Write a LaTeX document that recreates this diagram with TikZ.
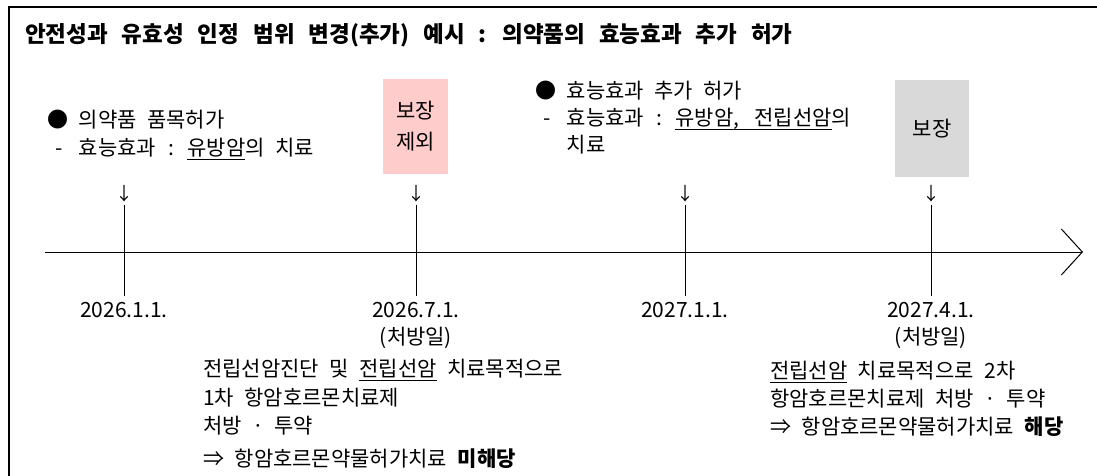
\documentclass[tikz,border=0pt]{standalone}
\usepackage{fontspec}
\setmainfont{Noto Sans CJK KR}
\newcommand\undl[1]{\setbox0\hbox{#1}\rlap{\rule[-4.5pt]{\wd0}{0.9pt}}\box0\relax}
\newcommand\setbody[2]{\fontsize{#1}{#2}\selectfont\spaceskip=.5em\relax}
\newcommand\hw[2][c]{\makebox[.5em][#1]{#2}}
\newcommand\dashpre{\hspace*{.3em}\hw{-}\hspace*{.2em}\ }
\newcommand\blankpre{\hspace*{1em}\ }
\usetikzlibrary{arrows.meta}
\definecolor{exclpink}{HTML}{FFCCCC}
\definecolor{covgray}{HTML}{D9D9D9}

\begin{document}
\begin{tikzpicture}[x=1pt,y=-1pt,
  body/.style={anchor=base west,inner sep=0pt,align=left,font=\setbody{21}{28}},
  datelbl/.style={anchor=north,inner sep=0pt,align=center,font=\setbody{21}{27}},
  downarr/.style={inner sep=0pt,font=\fontsize{18}{20}\selectfont},
  tickln/.style={line width=1pt},
  cover/.style={inner sep=0pt,align=center,font=\setbody{21}{31}}]
  \path[use as bounding box,clip] (0,0) rectangle (1097,476);

  % --- frame and title ---
  \draw[line width=1.5pt] (9,480) |- (1100,7);
  \node[anchor=base west,inner sep=0pt,font={\bfseries\fontsize{22.5}{24}\selectfont\spaceskip=.62em\relax}] (title) at (25,43)
    {안전성과 유효성 인정 범위 변경(추가) 예시 : 의약품의 효능효과 추가 허가};

  % --- time axis ---
  \coordinate (axisL) at (45,252);
  \coordinate (axisR) at (1083,252);
  \draw[line width=1pt,-{Straight Barb[length=21pt,width=46pt,line width=1pt]}] (axisL) -- (axisR);

  % --- ticks and small arrows ---
  \foreach \x/\n in {124/1,416/2,685/3,931/4} {
    \coordinate (top\n) at (\x,205);
    \coordinate (bot\n) at (\x,296);
    \draw[tickln] (top\n) -- (bot\n);
    \node[downarr] (arr\n) at (\x,194) {↓};
  }

  % --- dates ---
  \node[datelbl] (d1) at (124,302) {2026.1.1.};
  \node[datelbl] (d2) at (416,302) {2026.7.1.\\(처방일)};
  \node[datelbl] (d3) at (685,302) {2027.1.1.};
  \node[datelbl] (d4) at (931,302) {2027.4.1.\\(처방일)};

  % --- coverage boxes ---
  \node[cover,fill=exclpink,minimum width=65,minimum height=95] (excl) at (415.5,126.5) {보장\\제외};
  \node[cover,fill=covgray,minimum width=74,minimum height=97] (cov) at (932,128.5) {보장};

  % --- approval notes (base = last line) ---
  \node[body] (apprA) at (47,155)
    {● 의약품 품목허가\\
     \dashpre 효능효과 \hw{:} \undl{유방암}의 치료};
  \node[body,font=\setbody{21}{27}] (apprB) at (535,152)
    {● 효능효과 추가 허가\\
     \dashpre 효능효과 \hw{:} \undl{유방암\hw[l]{,} 전립선암}의\\
     \blankpre 치료};

  % --- prescription notes ---
  \node[body,font=\setbody{21}{28.5}] (rxA) at (203,466)
    {전립선암진단 및 \undl{전립선암} 치료목적으로\\
     1차 항암호르몬치료제\\
     처방 · 투약\\[4pt]
     ⇒ 항암호르몬약물허가치료 \textbf{미해당}};
  \node[body] (rxB) at (770,434)
    {\undl{전립선암} 치료목적으로 2차\\
     항암호르몬치료제 처방 · 투약\\
     ⇒ 항암호르몬약물허가치료 \textbf{해당}};
\end{tikzpicture}
\end{document}
